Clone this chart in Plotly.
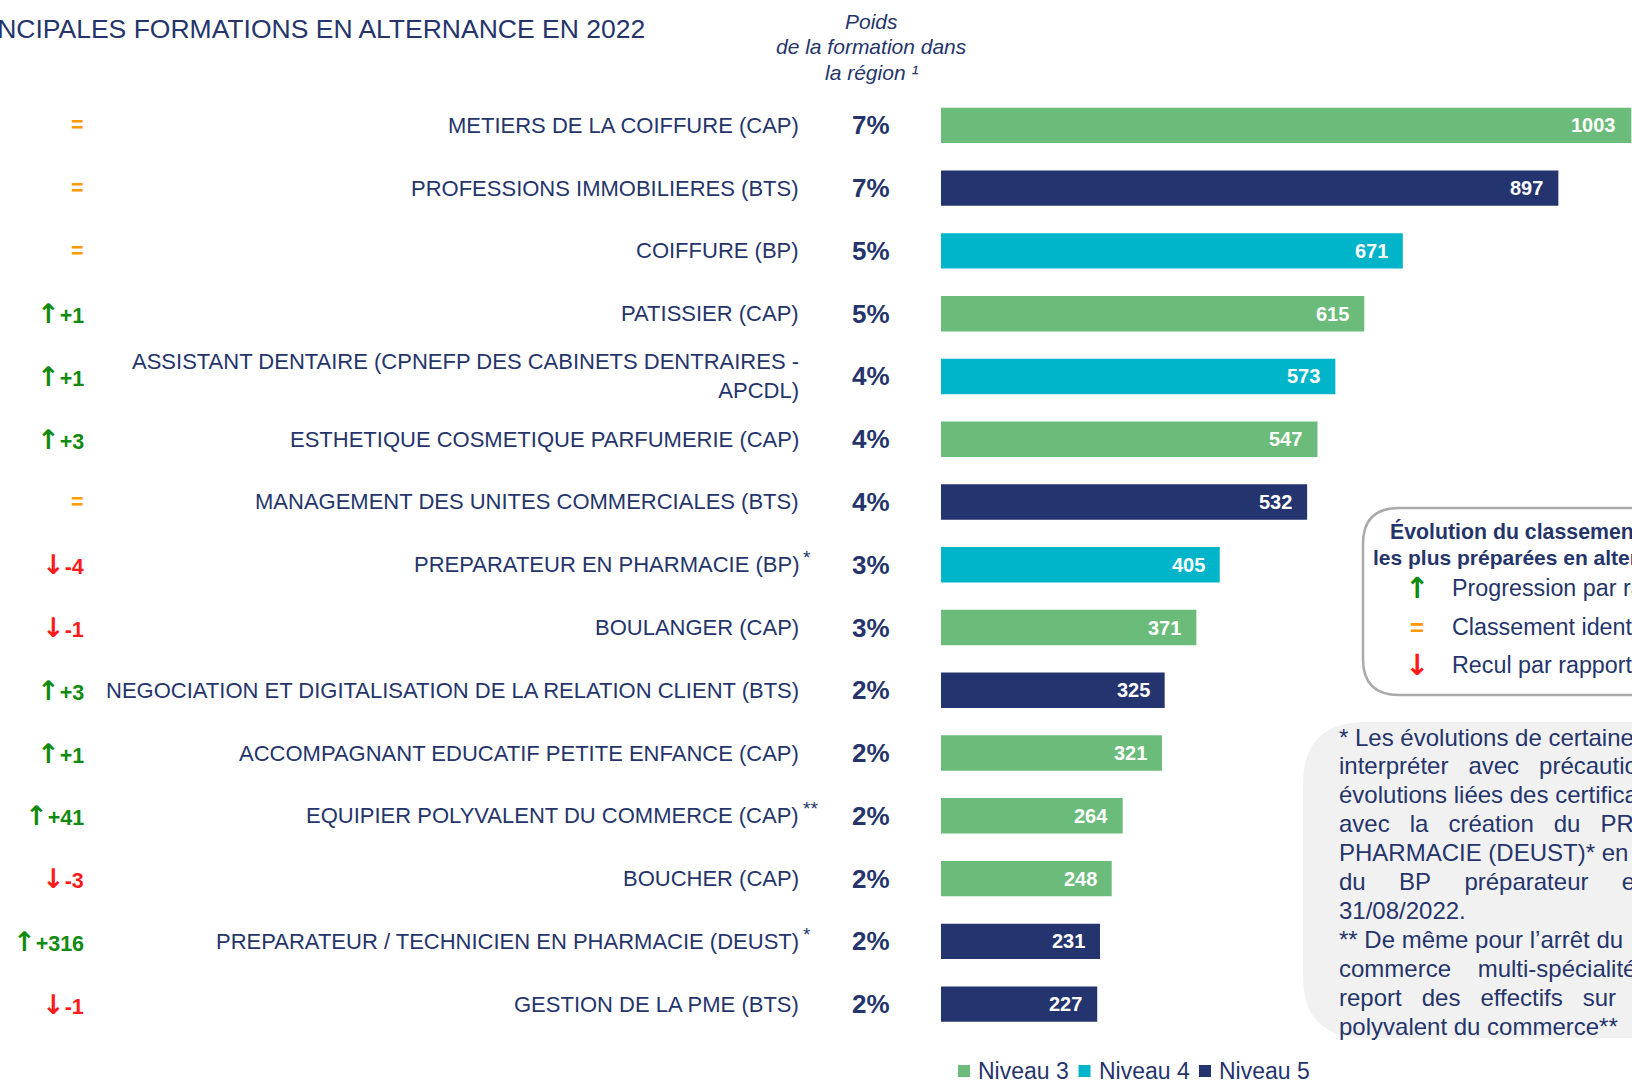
import plotly.graph_objects as go

# ---------------- data ----------------
labels = [
    "METIERS DE LA COIFFURE (CAP)",
    "PROFESSIONS IMMOBILIERES (BTS)",
    "COIFFURE (BP)",
    "PATISSIER (CAP)",
    "ASSISTANT DENTAIRE (CPNEFP DES CABINETS DENTRAIRES -<br>APCDL)",
    "ESTHETIQUE COSMETIQUE PARFUMERIE (CAP)",
    "MANAGEMENT DES UNITES COMMERCIALES (BTS)",
    "PREPARATEUR EN PHARMACIE (BP)",
    "BOULANGER (CAP)",
    "NEGOCIATION ET DIGITALISATION DE LA RELATION CLIENT (BTS)",
    "ACCOMPAGNANT EDUCATIF PETITE ENFANCE (CAP)",
    "EQUIPIER POLYVALENT DU COMMERCE (CAP)",
    "BOUCHER (CAP)",
    "PREPARATEUR / TECHNICIEN EN PHARMACIE (DEUST)",
    "GESTION DE LA PME (BTS)",
]
label_notes = ["", "", "", "", "", "", "", "*", "", "", "", "**", "", "*", ""]
values = [1003, 897, 671, 615, 573, 547, 532, 405, 371, 325, 321, 264, 248, 231, 227]
levels = [3, 5, 4, 3, 4, 3, 5, 4, 3, 5, 3, 3, 3, 5, 5]
shares = ["7%", "7%", "5%", "5%", "4%", "4%", "4%", "3%", "3%", "2%", "2%", "2%", "2%", "2%", "2%"]
rank_changes = ["=", "=", "=", "+1", "+1", "+3", "=", "-4", "-1", "+3", "+1", "+41", "-3", "+316", "-1"]
level_list = [3, 4, 5]
level_names = ["Niveau 3", "Niveau 4", "Niveau 5"]

title_text = "PRINCIPALES FORMATIONS EN ALTERNANCE EN 2022"
header_lines = ["Poids", "de la formation dans", "la région ¹"]
box_title_1 = "Évolution du classement des formations"
box_title_2 = "les plus préparées en alternance"
box_items = [("↑", "Progression par rapport à 2021"),
             ("=", "Classement identique à 2021"),
             ("↓", "Recul par rapport à 2021")]
# justified paragraph: runs of spaces reproduce the justification gaps
note_lines = [
    "* Les évolutions de certaines formations sont à",
    "interpréter   avec   précaution   au   regard   des",
    "évolutions liées des certifications de la pharmacie",
    "avec   la   création   du   PREPARATEUR   EN",
    "PHARMACIE (DEUST)* en remplacement",
    "du     BP     préparateur     en     pharmacie",
    "31/08/2022.",
    "** De même pour l’arrêt du        CAP employé de",
    "commerce    multi-spécialités    et    le",
    "report   des   effectifs   sur   l’équipier",
    "polyvalent du commerce**",
]

# ---------------- style ----------------
W, H = 1632, 1083
FONT = "Liberation Sans, Arial, sans-serif"
ARROW_FONT = "DejaVu Sans"
NAVY_TXT = "#25356B"
COLORS = {3: "#6BBB7B", 4: "#00B5CA", 5: "#24346E"}
GREEN = "#108A10"
RED = "#FF1A1A"
ORANGE = "#FF9900"


def px(x):
    return x / W


def py(y):
    return 1 - y / H


def arrow(sym, size):
    return f"<span style='font-family:{ARROW_FONT};font-size:{size}px;font-weight:bold'>{sym}</span>"


fig = go.Figure()
for lev, name in zip(level_list, level_names):
    idx = [i for i, l in enumerate(levels) if l == lev]
    fig.add_trace(go.Bar(
        x=[values[i] for i in idx],
        y=idx,
        width=0.564,
        orientation="h",
        name=name,
        marker=dict(color=COLORS[lev], line=dict(width=0)),
        hoverinfo="x",
        showlegend=False,
    ))

ann = []
shapes = []
ann.append(dict(text=title_text, xref="paper", yref="paper", x=px(647), y=py(29),
                xanchor="right", yanchor="middle", showarrow=False,
                font=dict(family=FONT, size=26.5, color=NAVY_TXT)))
for line, yy in zip(header_lines, [21, 46, 72]):
    ann.append(dict(text="<i>" + line + "</i>", xref="paper", yref="paper", x=px(871), y=py(yy),
                    xanchor="center", yanchor="middle", showarrow=False,
                    font=dict(family=FONT, size=21, color=NAVY_TXT)))

for i, lab in enumerate(labels):
    ann.append(dict(text=lab, xref="paper", yref="y", x=px(801), y=i,
                    xanchor="right", yanchor="middle", align="right", showarrow=False,
                    font=dict(family=FONT, size=22, color=NAVY_TXT)))
    if label_notes[i]:
        ann.append(dict(text=label_notes[i], xref="paper", yref="y", x=px(801), y=i,
                        xanchor="left", yanchor="middle", showarrow=False, yshift=7,
                        font=dict(family=FONT, size=19, color=NAVY_TXT)))
    ann.append(dict(text="<b>" + shares[i] + "</b>", xref="paper", yref="y", x=px(871), y=i,
                    xanchor="center", yanchor="middle", showarrow=False,
                    font=dict(family=FONT, size=26, color=NAVY_TXT)))
    ann.append(dict(text="<b>" + str(values[i]) + "</b>", xref="x", yref="y", x=values[i], y=i,
                    xanchor="right", yanchor="middle", showarrow=False, xshift=-13,
                    font=dict(family=FONT, size=20, color="white")))
    ch = rank_changes[i]
    if ch == "=":
        txt, col = "<b>=</b>", ORANGE
    elif ch.startswith("+"):
        txt, col = arrow("↑", 27) + "<b>" + ch + "</b>", GREEN
    else:
        txt, col = arrow("↓", 27) + "<b>" + ch + "</b>", RED
    ann.append(dict(text=txt, xref="paper", yref="y", x=px(86), y=i,
                    xanchor="right", yanchor="middle", showarrow=False,
                    font=dict(family=FONT, size=21.5, color=col)))

# colour key (level legend) under the bars
for k, (lev, name) in enumerate(zip(level_list, level_names)):
    x0 = 958 + 120.5 * k
    shapes.append(dict(type="rect", xref="paper", yref="paper",
                       x0=px(x0), x1=px(x0 + 12), y0=py(1077), y1=py(1065),
                       fillcolor=COLORS[lev], line=dict(width=0)))
    ann.append(dict(text=name, xref="paper", yref="paper", x=px(x0 + 18), y=py(1071),
                    xanchor="left", yanchor="middle", showarrow=False,
                    font=dict(family=FONT, size=23, color=NAVY_TXT)))

# evolution box
ann.append(dict(text="<b>" + box_title_1 + "</b>", xref="paper", yref="paper", x=px(1388), y=py(531),
                xanchor="left", yanchor="middle", showarrow=False,
                font=dict(family=FONT, size=21.3, color=NAVY_TXT)))
ann.append(dict(text="<b>" + box_title_2 + "</b>", xref="paper", yref="paper", x=px(1371), y=py(557),
                xanchor="left", yanchor="middle", showarrow=False,
                font=dict(family=FONT, size=21, color=NAVY_TXT)))
item_y = [588, 627, 665]
item_col = [GREEN, ORANGE, RED]
for (sym, txt), yy, col in zip(box_items, item_y, item_col):
    symtxt = "<b>=</b>" if sym == "=" else arrow(sym, 29)
    ann.append(dict(text=symtxt, xref="paper", yref="paper", x=px(1417), y=py(yy),
                    xanchor="center", yanchor="middle", showarrow=False,
                    font=dict(family=FONT, size=24, color=col)))
    ann.append(dict(text=txt, xref="paper", yref="paper", x=px(1450), y=py(yy),
                    xanchor="left", yanchor="middle", showarrow=False,
                    font=dict(family=FONT, size=23.3, color=NAVY_TXT)))

# note box text
for li, line in enumerate(note_lines):
    yy = 737 + 28.9 * li
    ann.append(dict(text=line.replace(" ", "\u00a0"), xref="paper", yref="paper", x=px(1337), y=py(yy),
                    xanchor="left", yanchor="middle", showarrow=False,
                    font=dict(family=FONT, size=24, color=NAVY_TXT)))


def rounded_left_path(x0, y0, y1, x1, r):
    pts = [
        f"M {px(x1)},{py(y0)}",
        f"L {px(x0 + r)},{py(y0)}",
        f"Q {px(x0)},{py(y0)} {px(x0)},{py(y0 + r)}",
        f"L {px(x0)},{py(y1 - r)}",
        f"Q {px(x0)},{py(y1)} {px(x0 + r)},{py(y1)}",
        f"L {px(x1)},{py(y1)}",
    ]
    return " ".join(pts)


shapes += [
    dict(type="path", xref="paper", yref="paper", layer="below",
         path=rounded_left_path(1303, 722, 1038, 1700, 62) + " Z",
         fillcolor="#F1F1F1", line=dict(width=0)),
    dict(type="path", xref="paper", yref="paper", layer="below",
         path=rounded_left_path(1363, 508, 695, 1700, 36),
         line=dict(color="#AAAAAA", width=2.5)),
]

fig.update_layout(
    width=W, height=H,
    margin=dict(l=0, r=0, t=0, b=0, autoexpand=False),
    paper_bgcolor="white", plot_bgcolor="rgba(0,0,0,0)",
    barmode="overlay",
    xaxis=dict(domain=[px(941), 1], range=[0, 1004], visible=False, fixedrange=True),
    yaxis=dict(domain=[py(1035.5), py(94)], range=[14.5, -0.5], visible=False, fixedrange=True),
    showlegend=False,
    annotations=ann,
    shapes=shapes,
)

fig.write_html("out.html", config={"displayModeBar": False},
               post_script="document.body.style.margin='0';document.body.style.overflow='hidden';")
